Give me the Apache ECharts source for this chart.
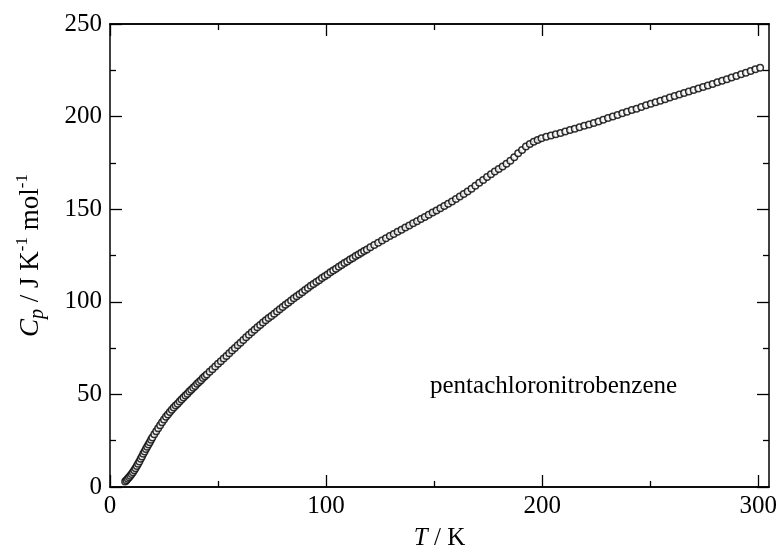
<!DOCTYPE html>
<html>
<head>
<meta charset="utf-8">
<title>pentachloronitrobenzene Cp</title>
<script src="https://cdn.jsdelivr.net/npm/echarts@6/dist/echarts.min.js"></script>
<style>
  html, body { margin: 0; padding: 0; background: #fff; }
  #myChart1 { width: 777px; height: 550px; }
</style>
</head>
<body>
<div id="myChart1"></div>
<script>
// temperature / K
var tempK = [
  7.0, 7.6, 8.2, 8.8, 9.4, 10.0, 10.6, 11.2, 11.8, 12.4, 13.0, 13.6, 14.2, 14.8, 15.4, 16.0, 16.6, 17.2, 17.8, 18.4, 19.0, 19.6,
  20.5, 21.4, 22.3, 23.2, 24.1, 25.0, 25.9, 26.8, 27.7, 28.6, 29.5, 30.4, 31.3, 32.2, 33.1, 34.0, 34.9, 35.8, 36.7, 37.6,
  38.5, 39.4, 40.3, 41.2, 42.1, 43.0, 43.9, 44.8,
  46.1, 47.4, 48.7, 50.0, 51.3, 52.6, 53.9, 55.2, 56.5, 57.8, 59.1, 60.4, 61.7, 63.0, 64.3, 65.6, 66.9, 68.2, 69.5, 70.8,
  72.1, 73.4, 74.7, 76.0, 77.3, 78.6, 79.9, 81.2, 82.5, 83.8, 85.1, 86.4, 87.7, 89.0, 90.3, 91.6, 92.9, 94.2, 95.5, 96.8,
  98.1, 99.4, 100.7, 102.0, 103.3, 104.6, 105.9, 107.2, 108.5, 109.8, 111.1, 112.4, 113.7, 115.0, 116.3, 117.6, 118.9,
  120.5, 122.3, 124.1, 125.9, 127.7, 129.5, 131.3, 133.1, 134.9, 136.7, 138.5, 140.3, 142.1, 143.9, 145.7, 147.5, 149.3,
  151.1, 152.9, 154.7, 156.5, 158.3, 160.1, 161.9, 163.7, 165.5, 167.3, 169.1, 170.9, 172.7, 174.5, 176.3, 178.1, 179.9,
  181.7, 183.5, 185.3, 187.1, 188.9, 190.7, 192.5, 194.3, 196.1, 197.9, 199.7,
  201.9, 204.1, 206.3, 208.5, 210.7, 212.9, 215.1, 217.3, 219.5, 221.7, 223.9, 226.1, 228.3, 230.5, 232.7, 234.9, 237.1,
  239.3, 241.5, 243.7, 245.9, 248.1, 250.3, 252.5, 254.7, 256.9, 259.1, 261.3, 263.5, 265.7, 267.9, 270.1, 272.3, 274.5,
  276.7, 278.9, 281.1, 283.3, 285.5, 287.7, 289.9, 292.1, 294.3, 296.5, 298.7, 300.9
];
// heat capacity / J K-1 mol-1
var cpVals = [
  3.0, 3.7, 4.4, 5.2, 6.1, 7.0, 8.0, 9.0, 10.1, 11.3, 12.5, 13.8, 15.2, 16.5, 17.9, 19.2, 20.5, 21.7, 23.0, 24.2, 25.5, 26.7,
  28.5, 30.1, 31.7, 33.4, 35.0, 36.5, 37.9, 39.2, 40.5, 41.7, 42.9, 44.0, 45.0, 46.1, 47.2, 48.3, 49.4, 50.4, 51.5, 52.5,
  53.6, 54.6, 55.7, 56.7, 57.7, 58.8, 59.8, 60.8,
  62.2, 63.6, 65.1, 66.5, 67.9, 69.4, 70.8, 72.2, 73.7, 75.1, 76.5, 77.9, 79.4, 80.8, 82.2, 83.6, 84.9, 86.2, 87.5, 88.8,
  90.0, 91.2, 92.4, 93.6, 94.8, 96.0, 97.2, 98.4, 99.5, 100.7, 101.9, 103.0, 104.1, 105.2, 106.4, 107.5, 108.6, 109.6, 110.7, 111.7,
  112.8, 113.8, 114.8, 115.9, 116.9, 117.9, 118.9, 119.9, 120.9, 121.8, 122.8, 123.7, 124.7, 125.6, 126.5, 127.4, 128.3,
  129.4, 130.7, 131.9, 133.1, 134.3, 135.5, 136.6, 137.8, 138.9, 140.1, 141.2, 142.4, 143.5, 144.7, 145.8, 147.0, 148.2,
  149.3, 150.5, 151.7, 152.9, 154.2, 155.5, 156.8, 158.2, 159.6, 161.1, 162.7, 164.3, 165.8, 167.4, 168.9, 170.3, 171.7,
  173.1, 174.6, 176.1, 178.0, 180.2, 182.0, 183.8, 185.2, 186.4, 187.4, 188.3,
  189.1, 189.8, 190.5, 191.2, 191.9, 192.7, 193.4, 194.2, 195.0, 195.8, 196.6, 197.4, 198.3, 199.2, 200.1, 200.9, 201.8,
  202.6, 203.5, 204.3, 205.2, 206.1, 206.9, 207.8, 208.6, 209.4, 210.3, 211.1, 211.9, 212.7, 213.5, 214.3, 215.2, 216.0,
  216.8, 217.6, 218.5, 219.3, 220.2, 221.1, 221.9, 222.8, 223.7, 224.6, 225.5, 226.4
];
var xMajorTicks = [0, 100, 200, 300];
var xMinorTicks = [50, 150, 250];
var compoundName = 'pentachloronitrobenzene';

var serif = 'Liberation Serif';
var black = '#000';

function xAxisOf(pos, ticks, len, showLabel) {
  return {
    type: 'value',
    position: pos,
    min: 0,
    max: 305,
    interval: 100,
    splitLine: { show: false },
    axisLine: { show: true, onZero: false, lineStyle: { color: black, width: 1.5 } },
    axisTick: { show: true, inside: true, length: len, customValues: ticks, lineStyle: { color: black, width: 1.3 } },
    axisLabel: {
      show: showLabel,
      customValues: xMajorTicks,
      margin: 7,
      color: black,
      fontFamily: serif,
      fontSize: 25
    }
  };
}

function yAxisOf(pos, showLabel) {
  return {
    type: 'value',
    position: pos,
    min: 0,
    max: 250,
    interval: 50,
    splitLine: { show: false },
    axisLine: { show: true, onZero: false, lineStyle: { color: black, width: 1.5 } },
    axisTick: { show: true, inside: true, length: 12, lineStyle: { color: black, width: 1.3 } },
    minorTick: { show: true, splitNumber: 2, length: 6, lineStyle: { color: black, width: 1.3 } },
    axisLabel: { show: showLabel, margin: 8, color: black, fontFamily: serif, fontSize: 25 }
  };
}

var xBottom = xAxisOf('bottom', xMajorTicks, 12, true);
xBottom.name = '{it|T} / K';
xBottom.nameLocation = 'middle';
xBottom.nameGap = 39;
xBottom.nameTextStyle = {
  color: black, fontFamily: serif, fontSize: 25,
  rich: { it: { fontStyle: 'italic', fontFamily: serif, fontSize: 25, color: black } }
};

var yLeft = yAxisOf('left', true);
yLeft.name = '{it|C}{sub|p}{n| / J K}{sup|-1}{n| mol}{sup|-1}';
yLeft.nameLocation = 'middle';
yLeft.nameRotate = 90;
yLeft.nameGap = 62;
yLeft.nameTextStyle = {
  color: black, fontFamily: serif, fontSize: 27,
  rich: {
    it: { fontStyle: 'italic', fontFamily: serif, fontSize: 27, lineHeight: 34, color: black, verticalAlign: 'middle' },
    sub: { fontStyle: 'italic', fontFamily: serif, fontSize: 20, lineHeight: 18, color: black, verticalAlign: 'bottom' },
    n: { fontFamily: serif, fontSize: 27, lineHeight: 34, color: black, verticalAlign: 'middle' },
    sup: { fontFamily: serif, fontSize: 17, lineHeight: 16, color: black, verticalAlign: 'top' }
  }
};

var myChart1 = echarts.init(document.getElementById('myChart1'), null, { renderer: 'canvas' });
var option1 = {
  animation: false,
  backgroundColor: '#fff',
  grid: { left: 110, right: 8, top: 24, bottom: 63, containLabel: false, outerBoundsMode: 'none' },
  xAxis: [
    xBottom,
    xAxisOf('bottom', xMinorTicks, 6, false),
    xAxisOf('top', xMajorTicks, 12, false),
    xAxisOf('top', xMinorTicks, 6, false)
  ],
  yAxis: [
    yLeft,
    yAxisOf('right', false)
  ],
  graphic: [{
    type: 'text',
    left: 430,
    top: 374,
    style: { text: compoundName, fill: black, font: '25px "Liberation Serif"' }
  }],
  series: [{
    type: 'scatter',
    xAxisIndex: 0,
    yAxisIndex: 0,
    symbol: 'circle',
    symbolSize: 6.5,
    itemStyle: { color: '#fff', borderColor: black, borderWidth: 1.5 },
    data: tempK.map(function (t, i) { return [t, cpVals[i]]; })
  }]
};
myChart1.setOption(option1);
</script>
</body>
</html>
